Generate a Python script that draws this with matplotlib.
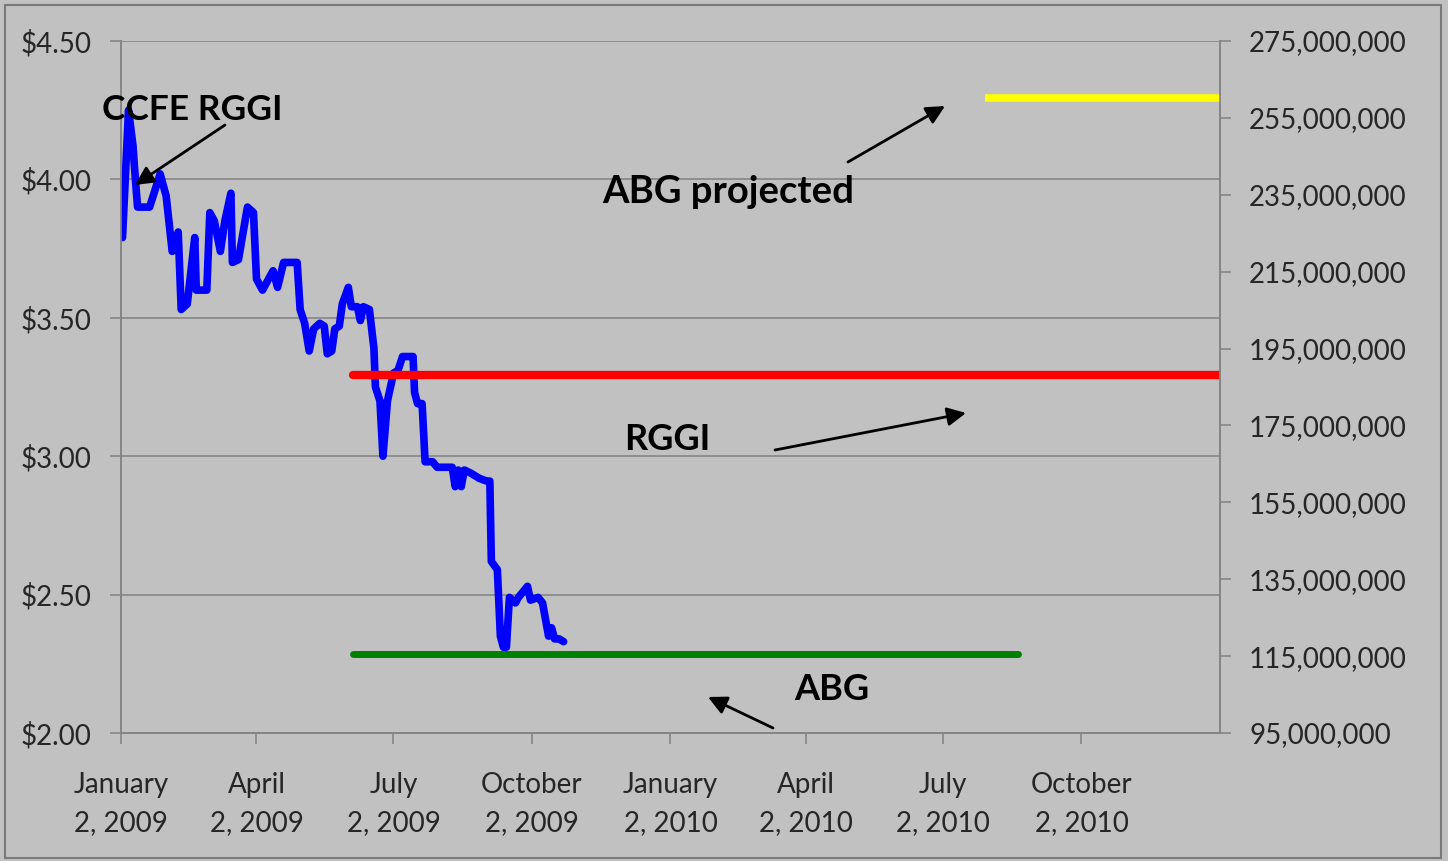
import matplotlib
matplotlib.use("Agg")
import matplotlib.pyplot as plt
import matplotlib.ticker as mticker
from matplotlib.patches import Rectangle
import pandas as pd

# ---------------------------------------
# Data
# ---------------------------------------

start = pd.Timestamp("2009-01-02")

# CCFE RGGI price: days after Jan 2 2009, dollars
price_days = [1, 5, 8, 9, 11, 19, 26, 30, 34, 38, 40, 44, 49, 50, 57, 59, 62, 66,
              69, 73, 74, 78, 84, 88, 90, 94, 101, 104, 108, 117, 119, 122, 125,
              128, 132, 135, 137, 140, 142, 145, 147, 151, 153, 157, 159, 161, 165,
              168, 169, 172, 174, 177, 181, 184, 187, 194, 195, 197, 200, 202, 207,
              210, 220, 222, 224, 226, 228, 232, 238, 243, 245, 246, 250, 252, 254,
              256, 258, 262, 264, 270, 272, 277, 280, 284, 286, 288, 291, 294]
price = [3.79, 4.25, 4.12, 4.04, 3.90, 3.90, 4.02, 3.94, 3.74, 3.81, 3.53, 3.55,
         3.79, 3.60, 3.60, 3.88, 3.85, 3.74, 3.85, 3.95, 3.70, 3.71, 3.90, 3.88,
         3.64, 3.60, 3.67, 3.61, 3.70, 3.70, 3.53, 3.48, 3.38, 3.46, 3.48, 3.47,
         3.37, 3.38, 3.46, 3.47, 3.55, 3.61, 3.54, 3.54, 3.49, 3.54, 3.53, 3.39,
         3.25, 3.20, 3.00, 3.20, 3.30, 3.31, 3.36, 3.36, 3.23, 3.19, 3.19, 2.98,
         2.98, 2.96, 2.96, 2.89, 2.95, 2.89, 2.95, 2.94, 2.92, 2.91, 2.91, 2.62,
         2.59, 2.35, 2.31, 2.31, 2.49, 2.47, 2.49, 2.53, 2.48, 2.49, 2.47, 2.35,
         2.38, 2.34, 2.34, 2.33]

# allowance levels (right axis, tons)
rggi_dates = ["2009-06-05", "2011-01-02"]
rggi_level = [188000000, 188000000]
abg_dates = ["2009-06-05", "2010-08-21"]
abg_level = [115500000, 115500000]
abg_proj_dates = ["2010-07-30", "2011-01-02"]
abg_proj_level = [260300000, 260300000]

tick_dates = ["2009-01-02", "2009-04-02", "2009-07-02", "2009-10-02",
              "2010-01-02", "2010-04-02", "2010-07-02", "2010-10-02"]
tick_labels = ["January\n2, 2009", "April\n2, 2009", "July\n2, 2009", "October\n2, 2009",
               "January\n2, 2010", "April\n2, 2010", "July\n2, 2010", "October\n2, 2010"]

# ---------------------------------------
# Figure
# ---------------------------------------

plt.rcParams['font.family'] = ['Lato', 'DejaVu Sans']
bg = "#c1c1c1"
grid = "#858585"
W, H = 1448, 861

fig = plt.figure(figsize=(W / 100, H / 100), dpi=100, facecolor=bg)
fig.patches.append(Rectangle((5 / W, 3 / H), 1436 / W, 853 / H, transform=fig.transFigure,
                             fill=False, edgecolor="#7a7a7a", lw=1.5))

ax = fig.add_axes([121 / W, 1 - 733 / H, (1220 - 121) / W, (733 - 41) / H])
ax.set_facecolor(bg)
ax2 = ax.twinx()

price_dates = [start + pd.Timedelta(days=d) for d in price_days]
ax.plot(price_dates, price, color="#0000ff", lw=5.5, solid_joinstyle="round",
        solid_capstyle="round", zorder=3)

ax2.plot(pd.to_datetime(rggi_dates), rggi_level, color="#ff0000", lw=6, solid_capstyle="round")
ax2.plot(pd.to_datetime(abg_dates), abg_level, color="#008000", lw=5, solid_capstyle="round")
ax2.plot(pd.to_datetime(abg_proj_dates), abg_proj_level, color="#ffff00", lw=5.5, solid_capstyle="butt")

ax.set_xlim(pd.Timestamp("2009-01-02"), pd.Timestamp("2011-01-02"))
ax.set_ylim(2.0, 4.5)
ax.set_yticks([2.0, 2.5, 3.0, 3.5, 4.0, 4.5])
ax.yaxis.set_major_formatter(mticker.FuncFormatter(lambda v, p: "${:.2f}".format(v)))
ax.set_xticks(pd.to_datetime(tick_dates))
ax.set_xticklabels(tick_labels, linespacing=1.6)
ax.grid(axis="y", color=grid, lw=1.2)
ax.set_axisbelow(True)

ax2.set_ylim(95000000, 275000000)
ax2.set_yticks(range(95000000, 275000001, 20000000))
ax2.yaxis.set_major_formatter(mticker.FuncFormatter(lambda v, p: "{:,.0f}".format(v)))

for a in (ax, ax2):
    for s in a.spines.values():
        s.set_color(grid)
        s.set_linewidth(1.2)
    a.spines["top"].set_visible(False)
    a.tick_params(colors=grid, labelcolor="#262626", labelsize=20, length=8, width=1.2)
ax.tick_params(axis="x", pad=20)
ax.tick_params(axis="y", pad=13)
ax2.tick_params(axis="y", pad=13)

# ---------------------------------------
# Annotations (figure pixels)
# ---------------------------------------

def note(text, tx, ty, x0, y0, x1, y1, size=26):
    fig.text(tx / W, 1 - ty / H, text, ha="center", va="center",
             fontsize=size, fontweight="bold", color="black")
    ax.annotate("", xy=(x1, H - y1), xytext=(x0, H - y0), xycoords="figure pixels",
                textcoords="figure pixels",
                arrowprops=dict(arrowstyle="-|>", color="black", lw=2,
                                mutation_scale=28, shrinkA=0, shrinkB=0))

note("CCFE RGGI", 192, 110, 225, 125, 135, 185, size=25.5)
note("ABG projected", 728, 192, 848, 162, 945, 106, size=27.5)
note("RGGI", 667, 440, 775, 450, 966, 413)
note("ABG", 832, 690, 773, 728, 708, 697)

fig.savefig("out.png", dpi=100, facecolor=bg)
